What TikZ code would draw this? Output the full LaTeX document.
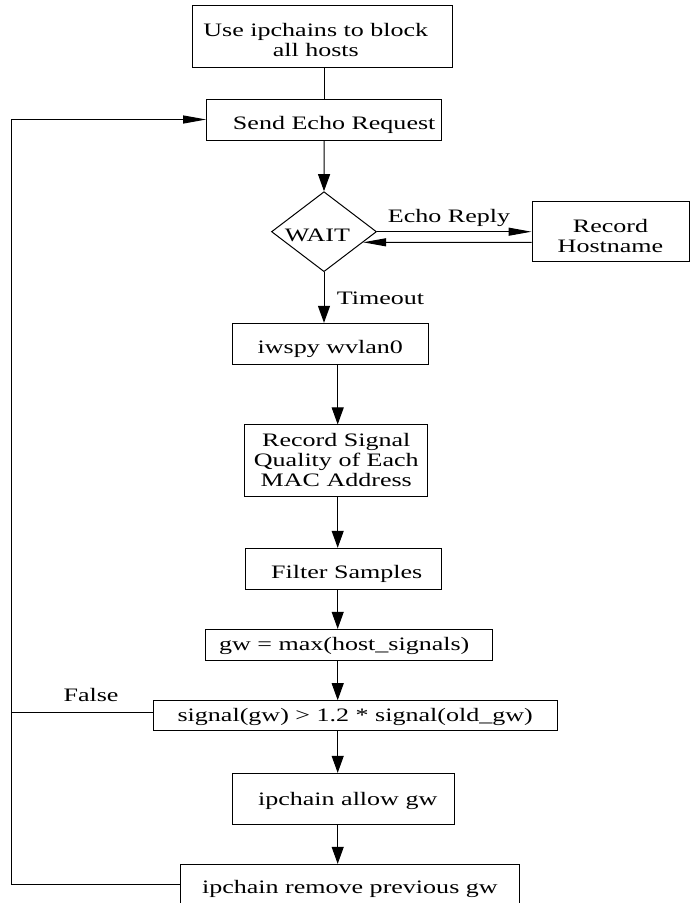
\documentclass[tikz,border=0pt]{standalone}
\usepackage{fontspec}
\usepackage{graphicx}
\setmainfont{Liberation Serif}
\usetikzlibrary{shapes.geometric,arrows.meta}
\newcommand{\sx}[1]{\scalebox{1.37}[1]{#1}}
\newcommand{\ml}[1]{\sx{\begin{tabular}{@{}c@{}}#1\end{tabular}}}
\newcommand{\dn}[2]{\raisebox{-#1}[\height][\depth]{#2}}
\tikzset{
  box/.style={draw, line width=1pt, inner sep=0pt, font=\fontsize{19}{20}\selectfont},
  lbl/.style={inner sep=0pt, anchor=base, font=\fontsize{19}{20}\selectfont},
  ln/.style={line width=1pt},
  varr/.style={ln, -{Triangle[length=17pt,width=12pt]}},
  harr/.style={ln, -{Triangle[length=23pt,width=8pt]}},
}
\begin{document}
\begin{tikzpicture}[x=1pt,y=-1pt]
\useasboundingbox (0,0) rectangle (694,903);
% boxes
\node[box, minimum width=260.3pt, minimum height=62pt] (b1) at (322.8,36)
  {\dn{6pt}{\ml{Use ipchains to block\\all hosts}}\hspace*{14pt}};
\node[box, minimum width=235pt, minimum height=41pt] (b2) at (324.2,119.5)
  {\hspace*{20pt}\dn{5pt}{\sx{Send Echo Request}}};
\node[box, diamond, aspect=1.3125, minimum width=105pt, minimum height=80pt] (dia) at (324,231.7)
  {\dn{3.5pt}{\sx{WAIT}}\hspace*{13pt}};
\node[box, minimum width=157pt, minimum height=60.3pt] (b3) at (610.5,231.8)
  {\dn{7pt}{\ml{Record\\Hostname}}};
\node[box, minimum width=196pt, minimum height=40.7pt] (b4) at (330.3,343.7)
  {\dn{5pt}{\sx{iwspy wvlan0}}};
\node[box, minimum width=182.7pt, minimum height=71.7pt] (b5) at (336.3,460.8)
  {\dn{1.5pt}{\ml{Record Signal\\Quality of Each\\MAC Address}}};
\node[box, minimum width=195.7pt, minimum height=41pt] (b6) at (343.8,568.8)
  {\hspace*{6pt}\dn{5pt}{\sx{Filter Samples}}};
\node[box, minimum width=287pt, minimum height=30.7pt] (b7) at (349.2,644.7)
  {\dn{1.5pt}{\sx{gw = max(host\_signals)}}\hspace*{10pt}};
\node[box, minimum width=403.7pt, minimum height=30pt] (b8) at (355.2,715.7)
  {\dn{1.5pt}{\sx{signal(gw) > 1.2 * signal(old\_gw)}}};
\node[box, minimum width=222pt, minimum height=50.7pt] (b9) at (343.7,798.7)
  {\hspace*{8pt}\dn{2pt}{\sx{ipchain allow gw}}};
\node[box, minimum width=338.3pt, minimum height=40.7pt] (b10) at (349.85,884.7)
  {\dn{4pt}{\sx{ipchain remove previous gw}}};
% labels
\node[lbl] (lecho) at (449,222) {\sx{Echo Reply}};
\node[lbl] (ltime) at (380.5,304) {\sx{Timeout}};
\node[lbl] (lfalse) at (91,701.7) {\sx{False}};
% helper coordinates
\coordinate (ax) at (337.7,0);
\coordinate (lx) at (11.7,0);
\coordinate (fj) at (11.7,712.3);
% connectors
\draw[ln] (b2.north |- b1.south) -- (b2.north);
\draw[varr] (b2.south) -- (dia.north);
\draw[harr] (dia.east) -- (dia.east -| b3.west);
\draw[harr] ([yshift=-10.6pt]b3.west) -- ([xshift=-13.9pt,yshift=-10.6pt]dia.east);
\draw[varr] (dia.south) -- (dia.south |- b4.north);
\draw[varr] (ax |- b4.south) -- (ax |- b5.north);
\draw[varr] (ax |- b5.south) -- (ax |- b6.north);
\draw[varr] (ax |- b6.south) -- (ax |- b7.north);
\draw[varr] (ax |- b7.south) -- (ax |- b8.north);
\draw[varr] (ax |- b8.south) -- (ax |- b9.north);
\draw[varr] (ax |- b9.south) -- (ax |- b10.north);
\draw[ln] (fj) -- (fj -| b8.west);
\draw[harr] (b10.west) -- (b10.west -| lx) -- (lx |- b2.west) -- (b2.west);
\end{tikzpicture}
\end{document}
